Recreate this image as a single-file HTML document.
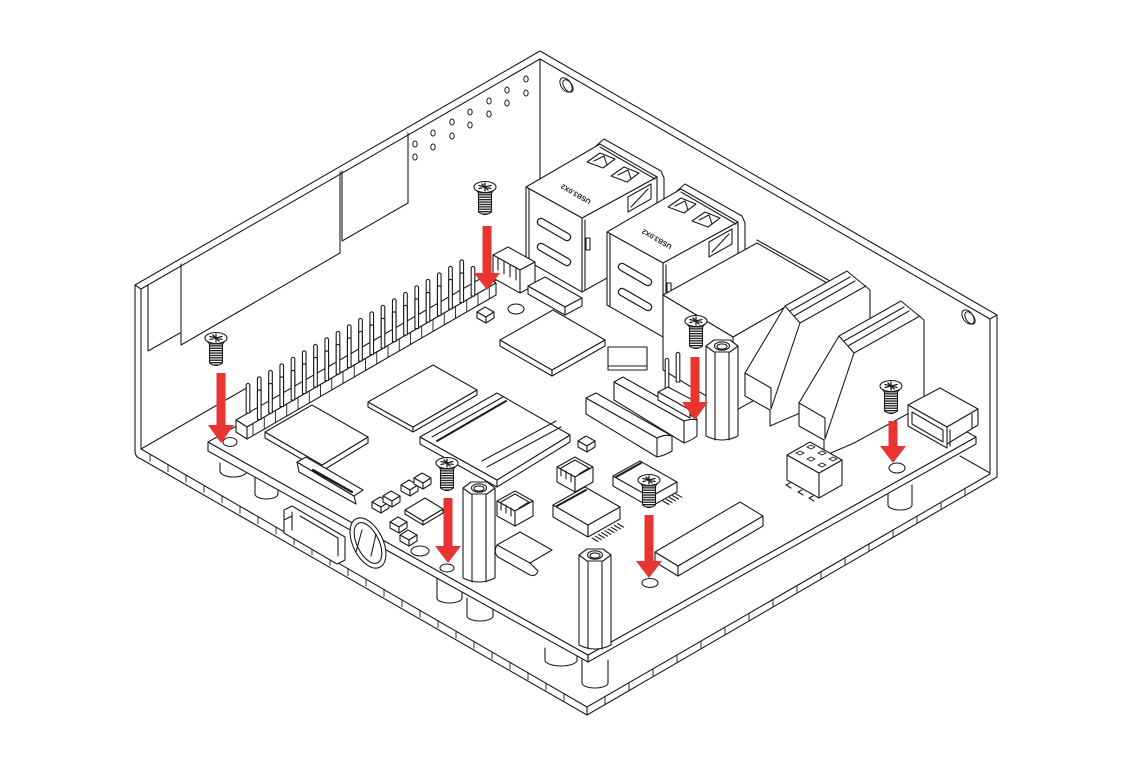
<!DOCTYPE html>
<html><head><meta charset="utf-8"><title>Enclosure assembly</title>
<style>html,body{margin:0;padding:0;background:#fff;overflow:hidden}svg{display:block}</style>
</head><body>
<svg width="1128" height="768" viewBox="0 0 1128 768" xmlns="http://www.w3.org/2000/svg">
<defs>
<pattern id="thr" width="6" height="2.4" patternUnits="userSpaceOnUse"><rect width="6" height="2.4" fill="#fff"/><rect width="6" height="1.3" fill="#1c1c1c"/></pattern>
<g id="pin"><path d="M-1.8,30 V1.6 Q0,-0.9 1.8,1.6 V30 Z"/></g>
<g id="screw">
 <path d="M-6.5,5 V25 Q0,30 6.5,25 V5 Z" fill="url(#thr)"/>
 <path d="M-11,0 L11,0 L6.5,6 L-6.5,6 Z"/>
 <ellipse cx="0" cy="0" rx="11" ry="5.5"/>
 <path d="M-6,-1.5 L6,1.5 M-6,1.5 L6,-1.5 M0,-4 V4 M-3,-3 L3,3" fill="none" stroke-width="1.3"/>
</g>
<g id="hex">
 <path d="M-16,0 V90 Q0,98 16,90 V0 Z"/>
 <path d="M-7,6 V94 M7,6 V94" fill="none"/>
 <polygon points="-16,0 -8,-6 8,-6 16,0 8,6 -8,6"/>
 <ellipse cx="0" cy="0" rx="7.5" ry="4.2"/>
 <ellipse cx="0" cy="0.5" rx="5" ry="2.6"/>
</g>
<g id="sb">
 <polygon points="0,0 8,-5 17,0 9,5"/>
 <polygon points="0,0 9,5 9,11 0,6"/>
 <polygon points="9,5 17,0 17,6 9,11"/>
</g>
<g id="jst">
 <polygon points="557,467 575,457 593,467 575,477"/>
 <polygon points="557,467 575,477 575,492 557,482"/>
 <polygon points="575,477 593,467 593,482 575,492"/>
 <path fill="none" d="M561,468 L575,460 L589,468 M561,468 V476 M566,471 V479 M571,474 V482 M579,474 L589,468"/>
</g>
</defs>

<g fill="#fff" stroke="#1c1c1c" stroke-width="1.1" stroke-linejoin="round" stroke-linecap="round">

<!-- enclosure walls -->
<path fill="none" d="M135,285 L540,51 L997,315 V477 M141,289 L540,59 L990,319 V473 M135,285 L141,289 M997,315 L990,319 M540,59 V200 M135,285 V451 Q135,457 141,459 M141,289 V449"/>
<!-- floor -->
<path fill="none" d="M141,449 L587,707 L990,474 M141,459 L587,715 L997,477 M587,707 V715 M141,449 L250,386 M990,473 L960,456"/>
<path fill="none" stroke-width="0.9" d="M150,454.2 v7 m18,3.4 v7 m18,3.4 v7 m18,3.4 v7 m18,3.4 v7 m18,3.4 v7 m18,3.4 v7 m18,3.4 v7 m18,3.4 v7 m18,3.4 v7 m18,3.4 v7 m18,3.4 v7 m18,3.4 v7 m18,3.4 v7 m18,3.4 v7 m18,3.4 v7 m18,3.4 v7 m18,3.4 v7 m18,3.4 v7 m18,3.4 v7 m18,3.4 v7 m18,3.4 v7 m18,3.4 v7 m18,3.4 v7"/>
<path fill="none" stroke-width="0.9" d="M605,696.6 v7 m24,-20.9 v7 m24,-20.9 v7 m24,-20.9 v7 m24,-20.9 v7 m24,-20.9 v7 m24,-20.9 v7 m24,-20.9 v7 m24,-20.9 v7 m24,-20.9 v7 m24,-20.9 v7 m24,-20.9 v7 m24,-20.9 v7 m24,-20.9 v7 m24,-20.9 v7 m24,-20.9 v7"/>

<!-- left wall panels -->
<path fill="none" d="M148,285 V351 L180,333 M181,264 V345 L340,253 V172 M342,171 V241 L408,203 V133"/>
<!-- wall holes -->
<g fill="none" stroke-width="1">
<ellipse cx="526" cy="79" rx="2.2" ry="3"/><ellipse cx="526" cy="93" rx="2.2" ry="3"/>
<ellipse cx="507" cy="90" rx="2.2" ry="3"/><ellipse cx="507" cy="103" rx="2.2" ry="3"/>
<ellipse cx="489" cy="101" rx="2.2" ry="3"/><ellipse cx="489" cy="114" rx="2.2" ry="3"/>
<ellipse cx="470" cy="112" rx="2.2" ry="3"/><ellipse cx="470" cy="125" rx="2.2" ry="3"/>
<ellipse cx="452" cy="122" rx="2.2" ry="3"/><ellipse cx="452" cy="136" rx="2.2" ry="3"/>
<ellipse cx="433" cy="133" rx="2.2" ry="3"/><ellipse cx="433" cy="147" rx="2.2" ry="3"/>
<ellipse cx="415" cy="144" rx="2.2" ry="3"/><ellipse cx="415" cy="157" rx="2.2" ry="3"/>
<ellipse cx="566" cy="85" rx="5" ry="8" transform="rotate(-35 566 85)"/>
<ellipse cx="568" cy="86" rx="4" ry="7" transform="rotate(-35 568 86)"/>
<ellipse cx="968" cy="317" rx="5" ry="8" transform="rotate(-35 968 317)"/>
<ellipse cx="970" cy="318" rx="4" ry="7" transform="rotate(-35 970 318)"/>
</g>

<!-- standoffs under board -->
<path d="M220,463 V471 A13.5,6 0 0 0 247,471 V463"/>
<path d="M255,478 V494 A11.5,5 0 0 0 278,494 V478"/>
<path d="M437,578 V598 A12.5,5 0 0 0 462,598 V578"/>
<path d="M467,598 V616 A13,5 0 0 0 493,616 V598"/>
<path d="M545,648 V660 A16,6 0 0 0 577,660 V648"/>
<path d="M582,660 V683 A13,5 0 0 0 608,683 V660"/>
<path d="M888,485 V505 A12,5 0 0 0 912,505 V485"/>

<!-- board -->
<polygon points="208,442 588,655 588,662 208,451"/>
<polygon points="588,655 976,437 976,444 588,662"/>
<polygon points="208,442 588,655 976,437 596,224"/>
<g fill="none">
<ellipse cx="230" cy="442" rx="7" ry="4.5"/>
<ellipse cx="487" cy="294" rx="7" ry="4"/>
<ellipse cx="516" cy="309" rx="8" ry="5"/>
<ellipse cx="420" cy="551" rx="9" ry="5"/>
<ellipse cx="447" cy="568" rx="7" ry="4"/>
<ellipse cx="650" cy="583" rx="8" ry="4.5"/>
<ellipse cx="897" cy="468" rx="8" ry="5"/>
</g>

<!-- USB stack 1 -->
<g id="usb">
<polygon points="596,146 604,139 661,171 664,178 664,248 657,252 657,177"/>
<polygon points="582,218 657,177 657,250 582,292"/>
<polygon points="526,187 600,144 657,177 582,218"/>
<polygon points="526,187 582,218 582,292 526,260"/>
<path fill="none" d="M529,189 V262 M585,220 V290 M600,147 L655,179"/>
<polygon points="587,162 600,153 615,159 603,168"/>
<path fill="none" d="M594,161 L604,156 L607,165"/>
<polygon points="611,176 624,167 639,173 627,182"/>
<path fill="none" d="M618,175 L628,170 L631,179"/>
<polygon points="628,197 651,184 651,199 628,212"/>
<path fill="none" d="M631,207 L648,189"/>
<path fill="none" stroke-width="8.5" d="M541,222 L567,237 M541,247 L567,262"/>
<path fill="none" stroke="#fff" stroke-width="6" d="M541,222 L567,237 M541,247 L567,262"/>
<rect x="586" y="238" width="4" height="12"/>
<text transform="translate(577,192) rotate(210)" font-family="Liberation Sans, sans-serif" font-size="7" font-weight="bold" fill="#1c1c1c" stroke="none" text-anchor="middle">USB3.0X2</text>
</g>
<!-- JST near USB1 -->
<polygon points="493,255 508,247 535,262 520,270"/>
<polygon points="493,255 520,270 520,293 493,278"/>
<polygon points="520,270 535,262 535,285 520,293"/>
<path fill="none" d="M498,258 V270 M504,261 V274 M510,265 V277 M516,268 V280"/>
<!-- block under USB1 -->
<polygon points="528,286 545,277 582,298 565,307"/>
<polygon points="528,286 565,307 565,315 528,294"/>
<polygon points="565,307 582,298 582,306 565,315"/>
<use href="#usb" transform="translate(81,45)"/>

<!-- Ethernet -->
<polygon points="733,337 827,283 827,360 733,412"/>
<polygon points="663,295 757,243 827,283 733,337"/>
<polygon points="663,295 733,337 733,412 663,370"/>
<path fill="none" d="M757,240 L830,281 V292"/>

<!-- HDMI-like connectors -->
<g id="hd">
<path d="M745,373 L785,306 L847,271 L870,290 V375 L800,413 L770,426 V410 L745,396 Z"/>
<path fill="none" d="M785,306 L800,323 L866,286 M800,323 L771,409 M790,311 L850,277 M794,316 L855,281 M745,373 L771,388 L771,409"/>
</g>
<use href="#hd" transform="translate(54,30)"/>

<!-- USB-C -->
<polygon points="908,405 940,388 978,409 947,427"/>
<polygon points="947,427 978,409 978,425 947,444"/>
<polygon points="908,405 947,427 947,448 908,426"/>
<path fill="none" d="M912,412 L943,430 V442 L912,424 Z M950,430 V446 M972,414 V428"/>

<!-- chip A + small square -->
<polygon points="500,340 552,370 552,376 500,346"/>
<polygon points="552,370 605,340 605,346 552,376"/>
<polygon points="500,340 553,310 605,340 552,370"/>
<rect x="608" y="347" width="39" height="23"/>
<path fill="none" d="M608,366 H647"/>
<use href="#sb" x="477" y="312"/>

<!-- curved connectors -->
<path d="M614,382 L684,421 Q692,418 697,420 V436 Q692,440 684,443 L614,400 Z"/>
<path d="M614,382 L623,377 L697,419 Q690,419 684,421 Z"/>
<path fill="none" d="M684,421 V443"/>
<path d="M586,398 L657,438 Q665,434 672,436 V451 Q666,455 657,457 L586,414 Z"/>
<path d="M586,398 L596,393 L672,436 Q665,434 657,438 Z"/>
<path fill="none" d="M657,438 V457"/>
<!-- 3 pin header -->
<use href="#pin" x="667" y="358"/>
<use href="#pin" x="678" y="352"/>
<polygon points="658,392 668,387 700,404 690,410"/>
<polygon points="658,392 690,410 690,418 658,400"/>

<!-- GPIO header base -->
<polygon points="236,420 485,276 496,283 247,427"/>
<polygon points="247,427 496,283 496,295 247,439"/>
<polygon points="236,420 247,427 247,439 236,432"/>
<path fill="none" stroke-width="0.9" d="M253,423.5 v12 m11.25,-18.5 v12 m11.25,-18.5 v12 m11.25,-18.5 v12 m11.25,-18.5 v12 m11.25,-18.5 v12 m11.25,-18.5 v12 m11.25,-18.5 v12 m11.25,-18.5 v12 m11.25,-18.5 v12 m11.25,-18.5 v12 m11.25,-18.5 v12 m11.25,-18.5 v12 m11.25,-18.5 v12 m11.25,-18.5 v12 m11.25,-18.5 v12 m11.25,-18.5 v12 m11.25,-18.5 v12 m11.25,-18.5 v12 m11.25,-18.5 v12 m11.25,-18.5 v12 m11.25,-18.5 v12"/>
<!-- back pins -->
<use href="#pin" x="248" y="383"/><use href="#pin" x="259.25" y="376.5"/><use href="#pin" x="270.5" y="370"/><use href="#pin" x="281.75" y="363.5"/><use href="#pin" x="293" y="357"/><use href="#pin" x="304.25" y="350.5"/><use href="#pin" x="315.5" y="344"/><use href="#pin" x="326.75" y="337.5"/><use href="#pin" x="338" y="331"/><use href="#pin" x="349.25" y="324.5"/><use href="#pin" x="360.5" y="318"/><use href="#pin" x="371.75" y="311.5"/><use href="#pin" x="383" y="305"/><use href="#pin" x="394.25" y="298.5"/><use href="#pin" x="405.5" y="292"/><use href="#pin" x="416.75" y="285.5"/><use href="#pin" x="428" y="279"/><use href="#pin" x="439.25" y="272.5"/><use href="#pin" x="450.5" y="266"/><use href="#pin" x="461.75" y="259.5"/>
<!-- front pins -->
<use href="#pin" x="259.25" y="389.5"/><use href="#pin" x="270.5" y="383"/><use href="#pin" x="281.75" y="376.5"/><use href="#pin" x="293" y="370"/><use href="#pin" x="304.25" y="363.5"/><use href="#pin" x="315.5" y="357"/><use href="#pin" x="326.75" y="350.5"/><use href="#pin" x="338" y="344"/><use href="#pin" x="349.25" y="337.5"/><use href="#pin" x="360.5" y="331"/><use href="#pin" x="371.75" y="324.5"/><use href="#pin" x="383" y="318"/><use href="#pin" x="394.25" y="311.5"/><use href="#pin" x="405.5" y="305"/><use href="#pin" x="416.75" y="298.5"/><use href="#pin" x="428" y="292"/><use href="#pin" x="439.25" y="285.5"/><use href="#pin" x="450.5" y="279"/><use href="#pin" x="461.75" y="272.5"/><use href="#pin" x="473" y="266"/>

<!-- chips -->
<polygon points="368,402 413,427 413,432 368,407"/>
<polygon points="413,427 477,390 477,395 413,432"/>
<polygon points="368,402 433,365 477,390 413,427"/>

<polygon points="420,437 497,480 497,487 420,444"/>
<polygon points="497,480 570,435 570,442 497,487"/>
<polygon points="420,437 497,393 570,435 497,480"/>
<path fill="none" d="M432,437 L503,397 M482,461 L556,421 M487,467 L561,427"/>
<path fill="none" stroke-width="2" d="M437,441 L506,401"/>

<polygon points="265,432 322,465 322,471 265,438"/>
<polygon points="322,465 368,437 368,443 322,471"/>
<polygon points="265,432 312,405 368,437 322,465"/>

<!-- left side connectors -->
<polygon points="297,462 354,496 356,504 299,472"/>
<polygon points="297,462 306,457 363,490 354,496"/>
<path fill="none" stroke-width="2.2" d="M313,470 L352,492"/>
<path d="M284,510 L292,506 L345,537 V560 L337,564 L284,533 Z"/>
<path fill="none" d="M292,512 V530 M300,516 L338,538 V556 M284,520 L292,516"/>
<ellipse cx="368" cy="543" rx="15" ry="27" transform="rotate(-26 368 543)"/>
<ellipse cx="368" cy="543" rx="11" ry="22" transform="rotate(-26 368 543)"/>
<path fill="none" d="M362,530 L356,552 M376,534 L371,556"/>
<use href="#sb" x="401" y="485"/><use href="#sb" x="414" y="478"/>
<use href="#sb" x="372" y="502"/><use href="#sb" x="383" y="496"/>
<use href="#sb" x="390" y="522"/><use href="#sb" x="400" y="535"/>
<polygon points="405,510 423,521 423,525 405,514"/>
<polygon points="423,521 443,509 443,513 423,525"/>
<polygon points="405,510 425,498 443,509 423,521"/>

<!-- center connectors -->
<use href="#sb" x="578" y="441"/>
<use href="#jst"/>
<use href="#jst" transform="translate(-60,34)"/>
<polygon points="553,505 588,525 588,537 553,517"/>
<polygon points="588,525 620,507 620,519 588,537"/>
<polygon points="553,505 585,487 620,507 588,525"/>
<path fill="none" stroke-width="2" d="M557,506 L586,490"/>
<path fill="none" d="M592,538 l6,3.5 m-2.8,-5.3 l6,3.5 m-2.8,-5.3 l6,3.5 m-2.8,-5.3 l6,3.5 m-2.8,-5.3 l6,3.5 m-2.8,-5.3 l6,3.5 m-2.8,-5.3 l6,3.5 m-2.8,-5.3 l6,3.5 m-2.8,-5.3 l6,3.5"/>
<polygon points="613,476 650,497 650,507 613,486"/>
<polygon points="650,497 677,482 677,492 650,507"/>
<polygon points="613,476 640,461 677,482 650,497"/>
<path fill="none" stroke-width="2" d="M616,477 L641,463"/>
<path fill="none" d="M663,501 l6,3.5 m-2.8,-5.3 l6,3.5 m-2.8,-5.3 l6,3.5 m-2.8,-5.3 l6,3.5 m-2.8,-5.3 l6,3.5"/>
<polygon points="497,545 520,532 552,550 530,563"/>
<path fill="none" d="M497,545 Q493,552 498,557 L530,575 Q536,577 538,571 L530,563"/>

<!-- long chip -->
<polygon points="655,552 678,566 678,576 655,562"/>
<polygon points="678,566 763,516 763,526 678,576"/>
<polygon points="655,552 740,502 763,516 678,566"/>

<!-- 2x3 header -->
<path fill="none" d="M790,483 l-4,2 l5,3 M802,490 l-4,2 l5,3 M813,496 l-4,2 l5,3"/>
<polygon points="787,455 819,473 819,498 787,480"/>
<polygon points="819,473 842,460 842,485 819,498"/>
<polygon points="787,455 810,442 842,460 819,473"/>
<g fill="none" stroke-width="0.9">
<path d="M796,453 l4,2 l4,-2 l-4,-2 z M807,447 l4,2 l4,-2 l-4,-2 z M807,459 l4,2 l4,-2 l-4,-2 z M818,453 l4,2 l4,-2 l-4,-2 z M818,465 l4,2 l4,-2 l-4,-2 z M829,459 l4,2 l4,-2 l-4,-2 z"/>
</g>

<!-- hex standoffs -->
<use href="#hex" x="722" y="346"/>
<use href="#hex" x="479" y="488"/>
<use href="#hex" x="595" y="555"/>

<!-- screws -->
<use href="#screw" x="485" y="187"/>
<use href="#screw" x="216" y="338"/>
<use href="#screw" x="447" y="463"/>
<use href="#screw" x="649" y="480"/>
<use href="#screw" x="891" y="386"/>
<use href="#screw" x="696" y="321"/>
</g>

<!-- red arrows -->
<g fill="#ea3431" stroke="none">
<rect x="482.5" y="226" width="9" height="48"/><polygon points="474,273 500,273 487,290"/>
<rect x="216.5" y="373" width="9" height="53"/><polygon points="208,425 234,425 221,443"/>
<rect x="443.5" y="498" width="9" height="49"/><polygon points="435,546 461,546 448,563"/>
<rect x="644.5" y="515" width="9" height="47"/><polygon points="636,561 662,561 649,578"/>
<rect x="888.5" y="421" width="9" height="26"/><polygon points="880,446 906,446 893,463"/>
<rect x="690.5" y="357" width="9" height="46"/><polygon points="682,402 708,402 695,420"/>
</g>
</svg>
</body></html>
